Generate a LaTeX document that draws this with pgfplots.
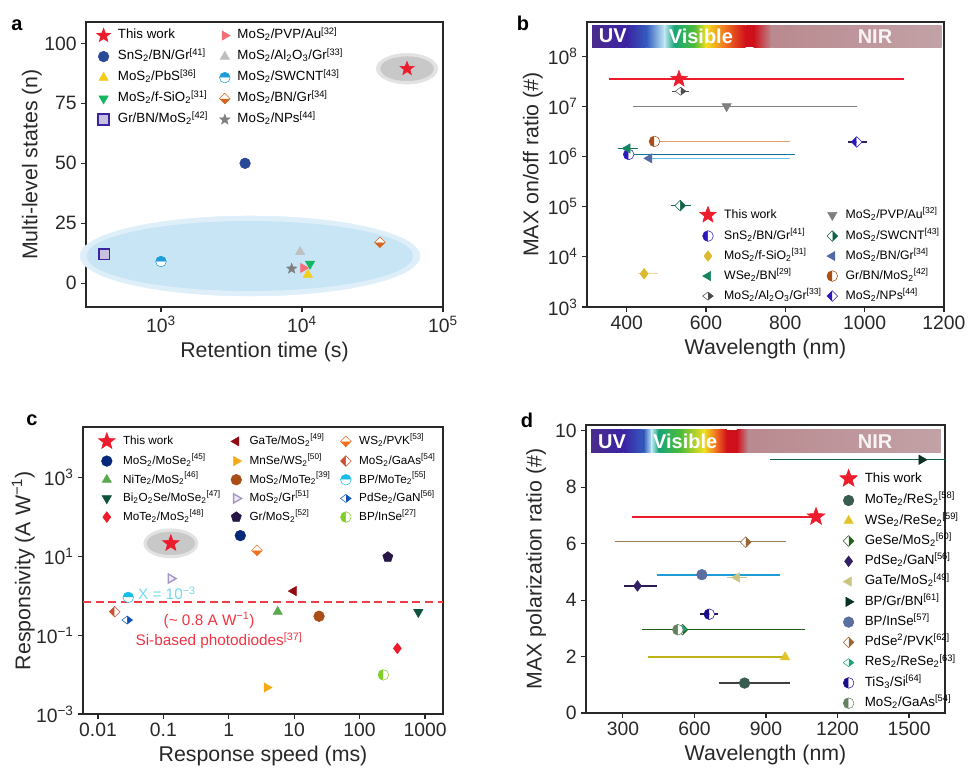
\documentclass[border=0pt]{standalone}
\usepackage{fontspec}
\setmainfont{Liberation Sans}
\usepackage{pgfplots}
\pgfplotsset{compat=1.18}
\usetikzlibrary{plotmarks}

\newcommand{\s}[1]{\textsubscript{#1}}
\newcommand{\rf}[1]{\textsuperscript{[#1]}}
\newcommand{\e}[1]{10\textsuperscript{#1}}

% filled five-point star
\pgfdeclareplotmark{fstar}{%
  \pgfpathmoveto{\pgfpointpolar{90}{\pgfplotmarksize}}%
  \foreach \a in {126,198,270,342,54}{%
    \pgfpathlineto{\pgfpointpolar{\a}{0.42\pgfplotmarksize}}%
    \pgfmathsetmacro\b{\a+36}%
    \pgfpathlineto{\pgfpointpolar{\b}{\pgfplotmarksize}}}%
  \pgfpathclose\pgfusepathqfillstroke}

\definecolor{axc}{RGB}{40,40,40}
\definecolor{red1}{RGB}{236,28,45}
\definecolor{hlblue}{RGB}{200,229,246}
\definecolor{hlblue2}{RGB}{222,239,250}
\definecolor{hlgray}{RGB}{200,200,200}
\definecolor{hlgray2}{RGB}{226,226,226}
\definecolor{uv}{RGB}{74,44,140}
\definecolor{blu}{RGB}{52,92,190}
\definecolor{cya}{RGB}{190,232,244}
\definecolor{tea}{RGB}{25,165,120}
\definecolor{grn}{RGB}{76,187,58}
\definecolor{yel}{RGB}{240,224,32}
\definecolor{ora}{RGB}{240,112,32}
\definecolor{rd}{RGB}{208,16,26}
\definecolor{nir}{RGB}{185,138,144}
\definecolor{nir2}{RGB}{194,162,166}

\pgfplotsset{
  pan/.style={
    scale only axis,
    axis line style={line width=0.8pt, axc},
    every tick/.style={line width=0.8pt, axc},
    tick align=outside, major tick length=3.5pt,
    xtick pos=left, ytick pos=left,
    minor tick style={draw=none},
    tick label style={font=\fontsize{14.5}{16}\selectfont, text=axc},
    label style={font=\fontsize{16}{18}\selectfont, text=axc},
    /pgf/number format/assume math mode=true,
    /pgf/number format/1000 sep={},
    legend cell align=left,
    legend image code/.code={\draw[mark repeat=2,mark phase=2,##1] plot coordinates {(0pt,0pt) (5pt,0pt) (10pt,0pt)};},
    legend style={draw=none, fill=none, inner sep=0pt,
      nodes={inner sep=0pt, text height=7pt, text depth=2pt}},
    every axis plot/.append style={mark size=4pt},
  },
  pm/.style 2 args={only marks, mark=#1, color=#2, mark options={solid, fill=#2, mark color=white}},
  rg/.style={forget plot, line width=1.1pt, color=#1},
  hl/.style={forget plot, only marks, mark=*, color=#1, mark options={fill=#1}},
}

\begin{document}
\begin{tikzpicture}
\path[use as bounding box] (0,0) rectangle (726.75pt,-582pt);

\node[font=\bfseries\fontsize{15}{15}\selectfont] at (12.75pt,-18.75pt) {a};
\node[font=\bfseries\fontsize{15}{15}\selectfont] at (392.25pt,-17.25pt) {b};
\node[font=\bfseries\fontsize{15}{15}\selectfont] at (24pt,-315pt) {c};
\node[font=\bfseries\fontsize{15}{15}\selectfont] at (395.25pt,-315pt) {d};

% ---------------- a ----------------
\begin{semilogxaxis}[pan,
  at={(64.5pt,-16.5pt)}, anchor=north west,
  width=267.75pt, height=213.75pt,
  xmin=294, xmax=1e5, ymin=-10, ymax=109,
  xtick={1e3,1e4,1e5}, xticklabels={\e{3},\e{4},\e{5}},
  ytick={0,25,50,75,100},
  xlabel={Retention time (s)}, ylabel={Multi-level states (n)},
  ylabel shift=-5pt,
  legend columns=5, transpose legend,
  legend style={at={(0.029,0.979)}, anchor=north west,
    font=\fontsize{10}{11}\selectfont, row sep=6.75pt,
    /tikz/every odd column/.append style={column sep=5.5pt},
    /tikz/every even column/.append style={column sep=8.5pt}},
]
\addplot[hl=hlblue2, mark size=30pt, mark options={xscale=4.25}] coordinates {(4276,11.3)};
\addplot[hl=hlblue, mark size=26pt, mark options={xscale=4.7}] coordinates {(4276,11.3)};
\addplot[hl=hlgray2, mark size=11.5pt, mark options={xscale=2}] coordinates {(55600,89.5)};
\addplot[hl=hlgray, mark size=9pt, mark options={xscale=2.2}] coordinates {(55600,89.5)};
\addplot[pm={fstar}{red1}, mark size=5.5pt] coordinates {(55600,89.5)};
\addlegendentry{This work}
\addplot[pm={*}{blu!80!black}] coordinates {(3950,50)};
\addlegendentry{SnS\s{2}/BN/Gr\rf{41}}
\addplot[pm={triangle*}{yel!80!orange}] coordinates {(11000,3.5)};
\addlegendentry{MoS\s{2}/PbS\rf{36}}
\addplot[pm={triangle*}{tea!80!green}, mark options={rotate=180}] coordinates {(11400,8)};
\addlegendentry{MoS\s{2}/f-SiO\s{2}\rf{31}}
\addplot[pm={square*}{uv!70!blue}, mark options={fill=uv!30, draw=uv!80!blue, line width=1.2pt}] coordinates {(395,12)};
\addlegendentry{Gr/BN/MoS\s{2}\rf{42}}
\addplot[pm={triangle*}{red1!50!pink}, mark options={rotate=-90}] coordinates {(10200,6.3)};
\addlegendentry{MoS\s{2}/PVP/Au\rf{32}}
\addplot[pm={triangle*}{black!25}] coordinates {(9700,13)};
\addlegendentry{MoS\s{2}/Al\s{2}O\s{3}/Gr\rf{33}}
\addplot[pm={halfcircle*}{blu!60!cyan}] coordinates {(1000,9)};
\addlegendentry{MoS\s{2}/SWCNT\rf{43}}
\addplot[pm={halfsquare*}{ora!90!black}] coordinates {(35700,17)};
\addlegendentry{MoS\s{2}/BN/Gr\rf{34}}
\addplot[pm={fstar}{black!50}] coordinates {(8450,6)};
\addlegendentry{MoS\s{2}/NPs\rf{44}}
\end{semilogxaxis}

% ---------------- b ----------------
\begin{semilogyaxis}[pan,
  at={(440.25pt,-16.5pt)}, anchor=north west,
  width=267.75pt, height=213.75pt,
  xmin=300, xmax=1200, ymin=1e3, ymax=4.8e8,
  xtick={400,600,800,1000,1200},
  ytick={1e3,1e4,1e5,1e6,1e7,1e8}, yticklabels={\e{3},\e{4},\e{5},\e{6},\e{7},\e{8}},
  xlabel={Wavelength (nm)}, ylabel={MAX on/off ratio (\#)},
  ylabel shift=-3pt,
  legend columns=5, transpose legend,
  legend style={at={(0.315,0.354)}, anchor=north west,
    font=\fontsize{9.2}{10}\selectfont, row sep=6pt,
    /tikz/every odd column/.append style={column sep=6pt},
    /tikz/every even column/.append style={column sep=4pt}},
]
\shade[left color=uv, right color=uv!80!blue] (313,1.51e8) rectangle (400,4.17e8);
\shade[left color=uv!80!blue, right color=blu] (400,1.51e8) rectangle (450,4.17e8);
\shade[left color=blu, right color=cya] (450,1.51e8) rectangle (495,4.17e8);
\shade[left color=cya, right color=tea] (495,1.51e8) rectangle (520,4.17e8);
\shade[left color=tea, right color=grn] (520,1.51e8) rectangle (570,4.17e8);
\shade[left color=grn, right color=yel] (570,1.51e8) rectangle (600,4.17e8);
\shade[left color=yel, right color=ora] (600,1.51e8) rectangle (650,4.17e8);
\shade[left color=ora, right color=rd] (650,1.51e8) rectangle (700,4.17e8);
\fill[rd] (700,1.51e8) rectangle (720,4.17e8);
\shade[left color=rd, right color=nir] (720,1.51e8) rectangle (765,4.17e8);
\shade[left color=nir, right color=nir2] (765,1.51e8) rectangle (1194,4.17e8);
\node[text=white, font=\bfseries\fontsize{15}{15}\selectfont] at (365,2.5e8) {UV};
\node[text=white, font=\bfseries\fontsize{15}{15}\selectfont] at (587,2.5e8) {Visible};
\node[text=white!90!nir, font=\bfseries\fontsize{15}{15}\selectfont] at (1026,2.5e8) {NIR};

\addplot[rg=red1] coordinates {(356,3.5e7) (1099,3.5e7)};
\addplot[rg=black!50] coordinates {(415,1e7) (980,1e7)};
\addplot[rg={ora!60!brown!70}] coordinates {(474,2e6) (813,2e6)};
\addplot[rg={tea!70!blue}] coordinates {(405,1.1e6) (825,1.1e6)};
\addplot[rg={blu!50!cyan!70}] coordinates {(457,9.2e5) (813,9.2e5)};
\addplot[rg=black!70] coordinates {(514,2e7) (558,2e7)};
\addplot[rg={uv!70!black}] coordinates {(959,1.95e6) (1005,1.95e6)};
\addplot[rg={tea!70!black}] coordinates {(377,1.45e6) (428,1.45e6)};
\addplot[rg={tea!60!black}] coordinates {(511,1.05e5) (562,1.05e5)};
\addplot[rg={yel!60!red!40}] coordinates {(428,4.6e3) (478,4.6e3)};

\addplot[pm={fstar}{red1}, mark size=6.5pt] coordinates {(532,3.5e7)};
\addlegendentry{This work}
\addplot[pm={halfcircle*}{uv!60!blue}, mark options={rotate=90}] coordinates {(405,1.1e6)};
\addlegendentry{SnS\s{2}/BN/Gr\rf{41}}
\addplot[pm={diamond*}{yel!60!brown}] coordinates {(444,4.6e3)};
\addlegendentry{MoS\s{2}/f-SiO\s{2}\rf{31}}
\addplot[pm={triangle*}{tea!80!black}, mark options={rotate=90}] coordinates {(402,1.45e6)};
\addlegendentry{WSe\s{2}/BN\rf{29}}
\addplot[pm={halfdiamond*}{black!70}, mark options={rotate=90}] coordinates {(536,2e7)};
\addlegendentry{MoS\s{2}/Al\s{2}O\s{3}/Gr\rf{33}}
\addplot[pm={triangle*}{black!50}, mark options={rotate=180}] coordinates {(652,1e7)};
\addlegendentry{MoS\s{2}/PVP/Au\rf{32}}
\addplot[pm={halfsquare right*}{tea!60!black}] coordinates {(535,1.05e5)};
\addlegendentry{MoS\s{2}/SWCNT\rf{43}}
\addplot[pm={triangle*}{blu!60!gray}, mark options={rotate=90}] coordinates {(457,9.2e5)};
\addlegendentry{MoS\s{2}/BN/Gr\rf{34}}
\addplot[pm={halfcircle*}{ora!70!black}, mark options={rotate=90}] coordinates {(470,2e6)};
\addlegendentry{Gr/BN/MoS\s{2}\rf{42}}
\addplot[pm={halfsquare left*}{uv!60!blue}] coordinates {(980,1.95e6)};
\addlegendentry{MoS\s{2}/NPs\rf{44}}
\end{semilogyaxis}

% ---------------- c ----------------
\begin{loglogaxis}[pan,
  at={(62.25pt,-320.25pt)}, anchor=north west,
  width=270pt, height=215.25pt,
  xmin=0.0059, xmax=1884, ymin=1e-3, ymax=1.86e4,
  xtick={0.01,0.1,1,10,100,1000}, xticklabels={0.01,0.1,1,10,100,1000},
  ytick={1e-3,1e-1,1e1,1e3}, yticklabels={\e{−3},\e{−1},\e{1},\e{3}},
  xlabel={Response speed (ms)}, ylabel={Responsivity (A W\textsuperscript{−1})},
  ylabel shift=-6pt,
  legend columns=5, transpose legend,
  legend style={at={(0.0425,0.981)}, anchor=north west,
    font=\fontsize{8.8}{10}\selectfont, row sep=5pt,
    /tikz/every odd column/.append style={column sep=6pt},
    /tikz/every even column/.append style={column sep=7.5pt}},
]
\addplot[hl=hlgray2, mark size=11pt, mark options={xscale=1.85}] coordinates {(0.13,21)};
\addplot[hl=hlgray, mark size=8.5pt, mark options={xscale=2.1}] coordinates {(0.13,21)};
\addplot[forget plot, line width=1.1pt, color=red1!80!pink, dash pattern=on 6pt off 3.5pt] coordinates {(0.0059,0.68) (1884,0.68)};
\node[text=red1!85!pink, font=\fontsize{11.5}{12}\selectfont] at (0.5,0.24) {(\textasciitilde\ 0.8 A W\textsuperscript{−1})};
\node[text=red1!85!pink, font=\fontsize{11.5}{12}\selectfont] at (0.71,0.072) {Si-based photodiodes\textsuperscript{[37]}};
\node[text=blu!40!cyan!60, font=\fontsize{11.5}{12}\selectfont] at (0.113,1.14) {X = 10\textsuperscript{−3}};

\addplot[pm={fstar}{red1}, mark size=6.5pt] coordinates {(0.13,21)};
\addlegendentry{This work}
\addplot[pm={*}{tea!40!blue!60!black}] coordinates {(1.5,33)};
\addlegendentry{MoS\s{2}/MoSe\s{2}\rf{45}}
\addplot[pm={triangle*}{grn!70!gray}] coordinates {(5.6,0.39)};
\addlegendentry{NiTe\s{2}/MoS\s{2}\rf{46}}
\addplot[pm={triangle*}{tea!50!black}, mark options={rotate=180}] coordinates {(790,0.38)};
\addlegendentry{Bi\s{2}O\s{2}Se/MoSe\s{2}\rf{47}}
\addplot[pm={diamond*}{red1}] coordinates {(378,0.046)};
\addlegendentry{MoTe\s{2}/MoS\s{2}\rf{48}}
\addplot[pm={triangle*}{rd!70!black}, mark options={rotate=90}] coordinates {(9.8,1.3)};
\addlegendentry{GaTe/MoS\s{2}\rf{49}}
\addplot[pm={triangle*}{ora!60!yellow}, mark options={rotate=-90}] coordinates {(3.8,0.0047)};
\addlegendentry{MnSe/WS\s{2}\rf{50}}
\addplot[pm={*}{ora!70!black}] coordinates {(24,0.30)};
\addlegendentry{MoS\s{2}/MoTe\s{2}\rf{39}}
\addplot[pm={triangle*}{uv!40!white}, mark options={rotate=-90, fill=uv!10, draw=uv!50!white, line width=1pt}] coordinates {(0.13,2.7)};
\addlegendentry{MoS\s{2}/Gr\rf{51}}
\addplot[pm={pentagon*}{uv!50!black}] coordinates {(270,9.5)};
\addlegendentry{Gr/MoS\s{2}\rf{52}}
\addplot[pm={halfsquare*}{ora}] coordinates {(2.7,14)};
\addlegendentry{WS\s{2}/PVK\rf{53}}
\addplot[pm={halfsquare left*}{rd!40!brown}] coordinates {(0.018,0.39)};
\addlegendentry{MoS\s{2}/GaAs\rf{54}}
\addplot[pm={halfcircle*}{blu!40!cyan}] coordinates {(0.029,0.9)};
\addlegendentry{BP/MoTe\s{2}\rf{55}}
\addplot[pm={halfdiamond*}{tea!50!blue}, mark options={rotate=90}] coordinates {(0.028,0.24)};
\addlegendentry{PdSe\s{2}/GaN\rf{56}}
\addplot[pm={halfcircle*}{grn!70!yellow}, mark options={rotate=90}] coordinates {(231,0.0098)};
\addlegendentry{BP/InSe\rf{27}}
\end{loglogaxis}

% ---------------- d ----------------
\begin{axis}[pan,
  at={(439.5pt,-318.75pt)}, anchor=north west,
  width=269.25pt, height=216pt,
  xmin=145, xmax=1651, ymin=0, ymax=10.2,
  xtick={300,600,900,1200,1500}, ytick={0,2,4,6,8,10},
  xlabel={Wavelength (nm)}, ylabel={MAX polarization ratio (\#)},
  legend style={at={(0.706,0.847)}, anchor=north west,
    font=\fontsize{10}{11}\selectfont, row sep=6.2pt,
    /tikz/every odd column/.append style={column sep=5.5pt}},
]
\shade[left color=uv, right color=uv!80!blue] (166,9.22) rectangle (303,10.03);
\shade[left color=uv!80!blue, right color=blu] (303,9.22) rectangle (387,10.03);
\shade[left color=blu, right color=cya] (387,9.22) rectangle (420,10.03);
\shade[left color=cya, right color=tea] (420,9.22) rectangle (450,10.03);
\shade[left color=tea, right color=grn] (450,9.22) rectangle (540,10.03);
\shade[left color=grn, right color=yel] (540,9.22) rectangle (640,10.03);
\shade[left color=yel, right color=ora] (640,9.22) rectangle (690,10.03);
\shade[left color=ora, right color=rd] (690,9.22) rectangle (736,10.03);
\fill[rd] (736,9.22) rectangle (778,10.03);
\shade[left color=rd, right color=nir] (778,9.22) rectangle (825,10.03);
\shade[left color=nir, right color=nir2] (825,9.22) rectangle (1634,10.03);
\node[text=white, font=\bfseries\fontsize{15}{15}\selectfont] at (254,9.62) {UV};
\node[text=white, font=\bfseries\fontsize{15}{15}\selectfont] at (561,9.62) {Visible};
\node[text=white!90!nir, font=\bfseries\fontsize{15}{15}\selectfont] at (1358,9.62) {NIR};

\addplot[rg={tea!60!black}] coordinates {(917,8.97) (1651,8.97)};
\addplot[rg=red1] coordinates {(338,6.95) (1110,6.95)};
\addplot[rg={brown!70!black!80}] coordinates {(268,6.07) (984,6.07)};
\addplot[rg={blu!60!cyan}] coordinates {(442,4.89) (959,4.89)};
\addplot[rg={black!40!yellow!60}] coordinates {(736,4.8) (820,4.8)};
\addplot[rg={uv!60!black}] coordinates {(303,4.5) (443,4.5)};
\addplot[rg={uv!60!black}] coordinates {(624,3.5) (697,3.5)};
\addplot[rg={grn!50!black}] coordinates {(380,2.95) (1064,2.95)};
\addplot[rg={yel!80!black}] coordinates {(407,1.98) (980,1.98)};
\addplot[rg=black!75] coordinates {(701,1.06) (1001,1.06)};

\addplot[pm={fstar}{red1}, mark size=7pt] coordinates {(1110,6.95)};
\addlegendentry{This work}
\addplot[pm={*}{tea!30!black!80}] coordinates {(810,1.06)};
\addlegendentry{MoTe\s{2}/ReS\s{2}\rf{58}}
\addplot[pm={triangle*}{yel!70!brown}] coordinates {(980,1.98)};
\addlegendentry{WSe\s{2}/ReSe\s{2}\rf{59}}
\addplot[pm={halfsquare right*}{grn!50!black}] coordinates {(550,2.95)};
\addlegendentry{GeSe/MoS\s{2}\rf{60}}
\addplot[pm={diamond*}{uv!70!black}] coordinates {(361,4.5)};
\addlegendentry{PdSe\s{2}/GaN\rf{56}}
\addplot[pm={triangle*}{black!40!yellow!60}, mark options={rotate=90}] coordinates {(778,4.8)};
\addlegendentry{GaTe/MoS\s{2}\rf{49}}
\addplot[pm={triangle*}{tea!30!black}, mark options={rotate=-90}] coordinates {(1553,8.97)};
\addlegendentry{BP/Gr/BN\rf{61}}
\addplot[pm={*}{blu!50!gray}] coordinates {(631,4.9)};
\addlegendentry{BP/InSe\rf{57}}
\addplot[pm={halfsquare right*}{brown!80!black}] coordinates {(815,6.05)};
\addlegendentry{PdSe\textsuperscript{2}/PVK\rf{62}}
\addplot[pm={halfdiamond*}{tea}, mark options={rotate=90}] coordinates {(545,2.97)};
\addlegendentry{ReS\s{2}/ReSe\s{2}\rf{63}}
\addplot[pm={halfcircle*}{uv!50!blue!70!black}, mark options={rotate=90}] coordinates {(662,3.5)};
\addlegendentry{TiS\s{3}/Si\rf{64}}
\addplot[pm={halfcircle*}{grn!40!black!70}, mark options={rotate=90}] coordinates {(530,2.95)};
\addlegendentry{MoS\s{2}/GaAs\rf{54}}
\end{axis}
\end{tikzpicture}
\end{document}
